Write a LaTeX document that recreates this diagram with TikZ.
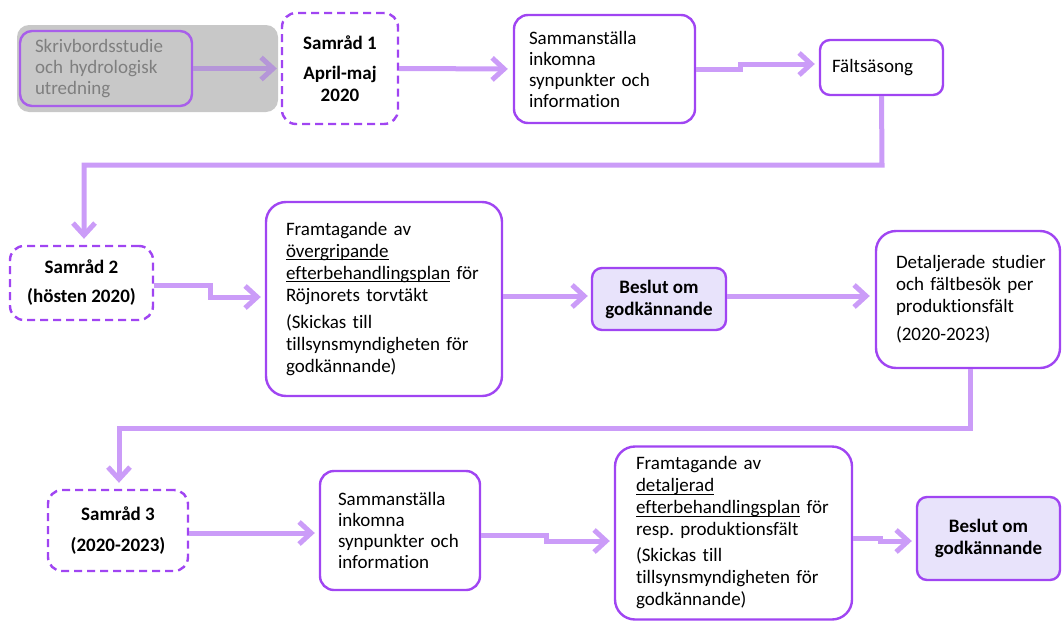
\documentclass[tikz,border=0pt]{standalone}
\usepackage{fontspec}
\setmainfont{Carlito}[Ligatures=NoCommon]
\usetikzlibrary{arrows.meta}
\definecolor{bord}{HTML}{A045F2}
\definecolor{arr}{HTML}{CB9CF8}
\definecolor{arrg}{HTML}{B596D8}
\definecolor{bgray}{HTML}{C8C8C8}
\definecolor{tgray}{HTML}{7F7F7F}
\definecolor{lav}{HTML}{E8E3FB}
\newcommand\myul[1]{\leavevmode\setbox0\hbox{#1}\rlap{\rule[-2.8pt]{\wd0}{0.9pt}}\box0}
\tikzset{
  box/.style={draw=bord, line width=2.4pt, rounded corners=14pt, fill=white,
    font=\fontsize{19}{22}\selectfont, align=left, inner ysep=0pt, anchor=center},
  samrad/.style={box, dashed, dash pattern=on 8pt off 5pt, font=\fontsize{19}{22}\selectfont\bfseries, align=center, inner xsep=0pt},
  beslut/.style={box, fill=lav, font=\fontsize{19}{22}\selectfont\bfseries, align=center, rounded corners=10pt, inner xsep=0pt},
  flow/.style={draw=arr, line width=5pt, -{Straight Barb[length=12pt,width=22pt,line width=5pt]}},
}
\begin{document}
\begin{tikzpicture}[x=1pt,y=-1pt]
\useasboundingbox (0,0) rectangle (1062,621);
% top row
\fill[bgray, rounded corners=12pt] (17,25) rectangle (278,112);
\node[box, fill=none, draw=bord!80!bgray, text=tgray, minimum width=172pt, minimum height=75pt, text width=142pt, inner xsep=15pt, rounded corners=12pt, font=\fontsize{19}{21}\selectfont] (desk) at (106,68.5)
  {Skrivbordsstudie\\och~hydrologisk\\utredning};
\node[samrad, minimum width=116pt, minimum height=111pt] (s1) at (340,68.5)
  {Samråd 1\\[8pt]April-maj\\2020};
\node[box, minimum width=181pt, minimum height=108pt, text width=151pt, inner xsep=15pt, font=\fontsize{19}{21}\selectfont] (samm1) at (604.5,69)
  {Sammanställa\\inkomna\\synpunkter~och\\information};
\node[box, minimum width=123pt, minimum height=55pt, text width=99pt, inner xsep=12pt, rounded corners=10pt] (falt) at (881.5,67.5)
  {Fältsäsong};
% middle row
\node[samrad, minimum width=143pt, minimum height=74pt] (s2) at (81.5,283)
  {Samråd 2\\[7pt](hösten 2020)};
\node[box, minimum width=236pt, minimum height=194pt, text width=196pt, inner xsep=20pt, rounded corners=20pt] (fram1) at (384,299)
  {Framtagande~av\\\myul{övergripande}\\\myul{efterbehandlingsplan}~för\\Röjnorets~torvtäkt\\[5pt](Skickas~till\\tillsynsmyndigheten~för\\godkännande)};
\node[beslut, minimum width=134pt, minimum height=62pt] (bes1) at (659,299)
  {Beslut om\\godkännande};
\node[box, minimum width=184pt, minimum height=137pt, text width=144pt, inner xsep=20pt, rounded corners=20pt] (det) at (968,299.5)
  {Detaljerade~studier\\och~fältbesök~per\\produktionsfält\\[6pt](2020-2023)};
% bottom row
\node[samrad, minimum width=140pt, minimum height=81pt] (s3) at (118,530.5)
  {Samråd 3\\[9pt](2020-2023)};
\node[box, minimum width=160pt, minimum height=119pt, text width=124pt, inner xsep=18pt, font=\fontsize{19}{21}\selectfont] (samm2) at (400,530.5)
  {Sammanställa\\inkomna\\synpunkter~och\\information};
\node[box, minimum width=237pt, minimum height=173pt, text width=195pt, inner xsep=21pt, rounded corners=20pt] (fram2) at (733.5,533)
  {Framtagande~av\\\myul{detaljerad}\\\myul{efterbehandlingsplan}~för\\resp.~produktionsfält\\[4pt](Skickas~till\\tillsynsmyndigheten~för\\godkännande)};
\node[beslut, minimum width=143pt, minimum height=83pt] (bes2) at (988.5,538.5)
  {Beslut om\\godkännande};
% connectors
\draw[flow, draw=arrg, shorten >=4pt] (desk.east) -- (s1.west);
\draw[flow, shorten >=5pt] (s1.east) -- (samm1.west);
\draw[flow, shorten >=4pt] (samm1.east) -- (740,69) -- (740,64) -- (falt.west |- 0,64);
\draw[flow, shorten >=6pt] (falt.south) -- (882,165) -- (84,165) -- (s2.north -| 84,0);
\draw[flow, shorten >=4pt] (s2.east |- 0,285) -- (210,285) -- (210,297) -- (fram1.west |- 0,297);
\draw[flow, shorten >=3pt] (fram1.east |- 0,296) -- (bes1.west |- 0,296);
\draw[flow, shorten >=5pt] (bes1.east |- 0,296) -- (det.west |- 0,296);
\draw[flow, shorten >=6pt] (det.south -| 970,0) -- (970,428) -- (119,428) -- (s3.north -| 119,0);
\draw[flow, shorten >=4pt] (s3.east |- 0,533) -- (samm2.west |- 0,533);
\draw[flow, shorten >=4pt] (samm2.east |- 0,535) -- (546,535) -- (546,541) -- (fram2.west |- 0,541);
\draw[flow, shorten >=4pt] (fram2.east |- 0,538) -- (880,538) -- (880,541) -- (bes2.west |- 0,541);
\end{tikzpicture}
\end{document}
